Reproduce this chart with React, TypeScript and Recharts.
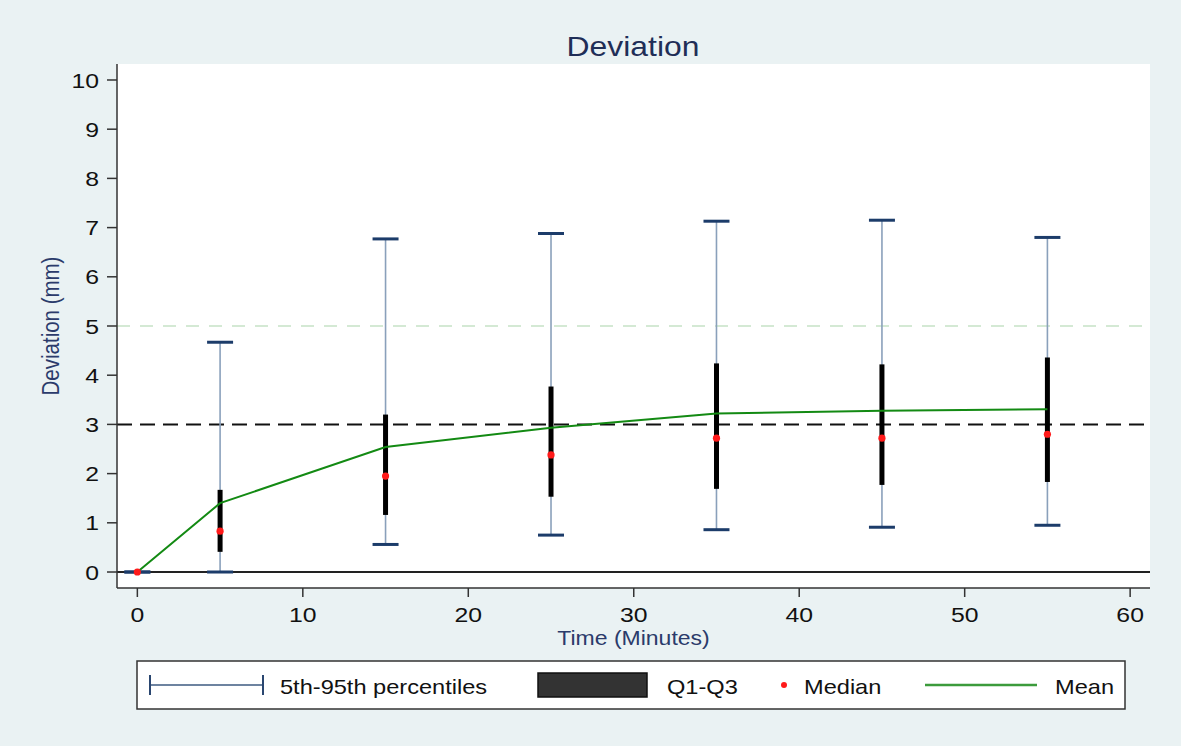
import * as React from "react";
import {
  ComposedChart,
  XAxis,
  YAxis,
  CartesianGrid,
  Scatter,
  Line,
  ErrorBar,
  ReferenceLine,
} from "recharts";

// values, one entry per time point
const times = [0, 5, 15, 25, 35, 45, 55];
const p5 = [0, 0, 0.56, 0.75, 0.86, 0.91, 0.95];
const p95 = [0, 4.67, 6.77, 6.88, 7.13, 7.15, 6.8];
const q1 = [0, 0.41, 1.16, 1.53, 1.69, 1.77, 1.83];
const q3 = [0, 1.67, 3.2, 3.77, 4.24, 4.22, 4.36];
const median = [0, 0.83, 1.95, 2.38, 2.72, 2.72, 2.8];
const mean = [0, 1.4, 2.54, 2.93, 3.22, 3.28, 3.31];

const xTicks = [0, 10, 20, 30, 40, 50, 60];
const yTicks = [0, 1, 2, 3, 4, 5, 6, 7, 8, 9, 10];

const W = 1181;
const H = 746;
const BG = "#eaf2f3";
const FONT = "'Liberation Sans', Arial, sans-serif";
const NAVY = "#1f2e57";
const LABEL = "#2b3b6b";
// the source image is a bit wider than tall, so text gets stretched sideways
const SX = 1.18;

const rows = times.map((t, i) => ({
  t,
  p5: p5[i],
  p95: p95[i],
  median: median[i],
  mean: mean[i],
  whisk: [median[i] - p5[i], p95[i] - median[i]],
  iqr: [median[i] - q1[i], q3[i] - median[i]],
}));

const Cap = (props: any) => {
  const { cx, cy } = props;
  if (cx == null || cy == null) return <g />;
  return (
    <line x1={cx - 13} x2={cx + 13} y1={cy} y2={cy} stroke="#1c3c6a" strokeWidth={3} />
  );
};

const Dot = (props: any) => {
  const { cx, cy } = props;
  if (cx == null || cy == null) return <g />;
  return <circle cx={cx} cy={cy} r={3.6} fill="#ff1a1a" />;
};

const Empty = () => <g />;

const Txt = ({ x, y, size, fill = "#111", anchor = "start", children }: any) => (
  <text
    transform={`translate(${x},${y}) scale(${SX},1)`}
    fontSize={size}
    fill={fill}
    textAnchor={anchor}
    fontFamily={FONT}
  >
    {children}
  </text>
);

const XTick = ({ x, y, payload }: any) => (
  <text
    transform={`translate(${x},${y}) scale(${SX},1)`}
    textAnchor="middle"
    dy="0.71em"
    fontSize={21}
    fill="#111"
    fontFamily={FONT}
  >
    {payload.value}
  </text>
);

const YTick = ({ x, y, payload }: any) => (
  <text
    transform={`translate(${x},${y}) scale(${SX},1)`}
    textAnchor="end"
    dy="0.36em"
    fontSize={21}
    fill="#111"
    fontFamily={FONT}
  >
    {payload.value}
  </text>
);

export default function App() {
  return (
    <div
      style={{
        position: "absolute",
        left: 0,
        top: 0,
        width: W,
        height: H,
        background: BG,
        fontFamily: FONT,
      }}
    >
      <ComposedChart
        width={W}
        height={H}
        data={rows}
        margin={{ top: 64, right: 31, bottom: 118, left: 0 }}
      >
        <CartesianGrid fill="#ffffff" stroke="none" horizontal={false} vertical={false} />
        <XAxis
          type="number"
          dataKey="t"
          domain={[-1.23, 61.2]}
          ticks={xTicks}
          allowDataOverflow
          height={40}
          tickSize={9}
          tickMargin={10}
          axisLine={{ stroke: "#333", strokeWidth: 1.5 }}
          tickLine={{ stroke: "#333", strokeWidth: 1.5 }}
          tick={XTick}
        />
        <YAxis
          type="number"
          domain={[-0.325, 10.325]}
          ticks={yTicks}
          allowDataOverflow
          width={117}
          tickSize={10}
          tickMargin={8}
          axisLine={{ stroke: "#333", strokeWidth: 1.5 }}
          tickLine={{ stroke: "#333", strokeWidth: 1.5 }}
          tick={YTick}
        />
        <ReferenceLine y={5} stroke="#c6e2c6" strokeWidth={1.5} strokeDasharray="13 10" />
        <ReferenceLine y={3} stroke="#111" strokeWidth={2} strokeDasharray="15 8" />
        <ReferenceLine y={0} stroke="#222" strokeWidth={2} />

        <Scatter dataKey="median" shape={Empty} isAnimationActive={false}>
          <ErrorBar
            dataKey="whisk"
            direction="y"
            width={0}
            stroke="#8aa0bb"
            strokeWidth={1.6}
            isAnimationActive={false}
          />
          <ErrorBar
            dataKey="iqr"
            direction="y"
            width={0}
            stroke="#000"
            strokeWidth={5}
            isAnimationActive={false}
          />
        </Scatter>
        <Scatter dataKey="p5" shape={Cap} isAnimationActive={false} />
        <Scatter dataKey="p95" shape={Cap} isAnimationActive={false} />
        <Line
          type="linear"
          dataKey="mean"
          stroke="#138a13"
          strokeWidth={2}
          dot={false}
          activeDot={false}
          isAnimationActive={false}
        />
        <Scatter dataKey="median" shape={Dot} isAnimationActive={false} />
      </ComposedChart>

      <svg
        width={W}
        height={H}
        style={{ position: "absolute", left: 0, top: 0, pointerEvents: "none" }}
        fontFamily={FONT}
      >
        <Txt x={633} y={56} size={27} fill={NAVY} anchor="middle">
          Deviation
        </Txt>
        <text
          transform={`translate(51,326) rotate(-90) scale(1,${SX})`}
          textAnchor="middle"
          dominantBaseline="central"
          fontSize={20.5}
          fill={LABEL}
          fontFamily={FONT}
        >
          Deviation (mm)
        </text>
        <Txt x={633.5} y={645} size={19.5} fill={LABEL} anchor="middle">
          Time (Minutes)
        </Txt>

        <rect x={137} y={661} width={988} height={48} fill="#fff" stroke="#333" strokeWidth={1.5} />
        <line x1={150} x2={263} y1={685} y2={685} stroke="#3d5a80" strokeWidth={1.5} />
        <line x1={150} x2={150} y1={675} y2={695} stroke="#2a4670" strokeWidth={2} />
        <line x1={263} x2={263} y1={675} y2={695} stroke="#2a4670" strokeWidth={2} />
        <Txt x={280} y={694} size={20}>
          5th-95th percentiles
        </Txt>
        <rect x={538} y={673} width={109} height={24} fill="#333" stroke="#111" strokeWidth={1.5} />
        <Txt x={667} y={694} size={20}>
          Q1-Q3
        </Txt>
        <circle cx={784} cy={685} r={3} fill="#ff1a1a" />
        <Txt x={804} y={694} size={20}>
          Median
        </Txt>
        <line x1={925} x2={1037} y1={685} y2={685} stroke="#3c9b3c" strokeWidth={2.5} />
        <Txt x={1055} y={694} size={20}>
          Mean
        </Txt>
      </svg>
    </div>
  );
}
